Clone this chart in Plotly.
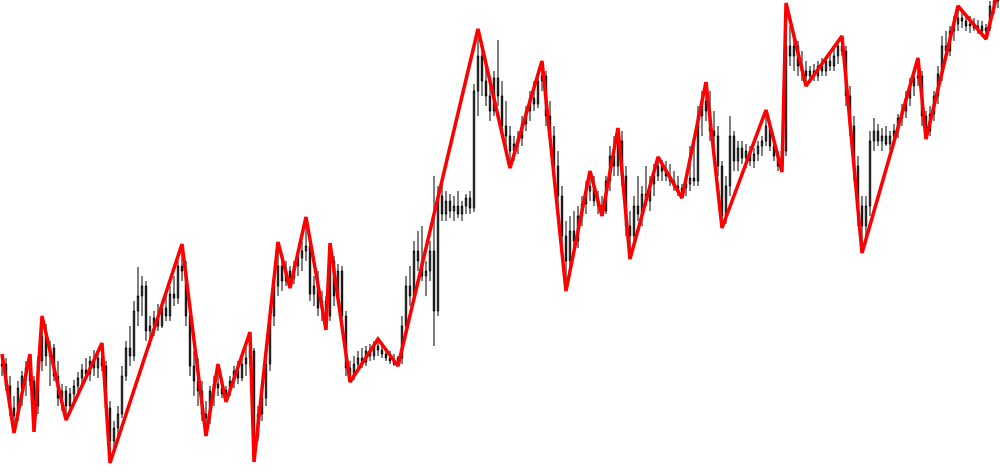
import plotly.graph_objects as go

# price values in chart units (0 = bottom of view, 476 = top)
opens = [
    110,112,90,68,60,88,100,108,95,70,
    115,140,120,128,100,78,85,70,82,90,
    98,106,102,115,108,118,110,68,35,48,
    62,100,128,120,165,180,190,145,150,158,
    150,168,160,182,178,210,205,160,110,95,
    85,62,58,85,92,88,82,86,95,105,
    98,112,118,125,40,62,78,112,160,190,
    210,195,205,198,210,218,225,230,182,190,
    168,175,160,215,180,205,160,108,100,112,
    118,114,125,120,130,126,122,118,115,112,
    118,150,190,180,225,215,200,205,225,165,
    280,262,275,265,270,262,270,278,268,385,
    420,395,380,365,398,380,350,340,325,332,
    338,352,365,378,372,395,400,360,340,310,
    280,240,215,245,235,260,272,285,290,275,
    270,265,295,320,310,335,300,250,240,270,
    262,282,275,292,300,310,305,300,295,290,
    285,288,292,298,295,360,375,365,345,340,
    310,260,290,340,315,328,318,325,315,322,
    330,335,350,330,320,310,325,430,420,430,
    410,405,400,405,400,410,405,415,410,420,
    430,425,380,350,310,270,250,270,335,345,
    335,340,332,340,345,358,365,378,390,398,
    400,360,345,362,380,402,430,425,445,452,
    458,455,450,452,448,450,445,448,470,475,
]
highs = [
    122,118,100,80,95,105,115,122,100,120,
    160,152,135,132,115,92,90,88,96,104,
    112,118,120,126,124,133,115,75,55,70,
    110,135,150,175,209,200,195,160,165,172,
    175,185,190,200,215,232,215,165,125,118,
    95,75,90,100,112,95,90,100,110,115,
    120,128,144,128,70,85,120,170,200,234,
    220,215,210,215,225,235,259,235,200,205,
    185,180,233,220,212,210,165,115,120,125,
    128,130,132,135,137,132,128,125,122,120,
    160,200,210,235,245,250,215,235,300,290,
    292,285,282,280,285,275,282,285,392,447,
    435,410,400,405,436,395,375,350,340,345,
    360,370,385,395,400,415,405,375,350,325,
    290,255,260,265,270,280,295,305,300,285,
    280,300,330,340,348,345,310,265,280,300,
    290,310,300,312,319,316,315,312,305,300,
    292,300,330,340,370,385,394,385,365,350,
    315,300,360,345,335,335,332,330,328,335,
    340,366,355,340,325,330,473,450,440,435,
    425,415,410,412,415,418,420,425,428,435,
    440,430,390,360,320,280,280,345,358,352,
    348,350,345,352,362,372,385,398,405,418,
    405,365,370,385,410,440,445,450,460,470,
    465,462,460,458,456,455,452,475,482,485,
]
lows = [
    100,85,60,43,55,70,80,90,44,62,
    105,110,90,95,70,65,56,62,75,80,
    88,96,95,100,98,105,60,13,28,40,
    58,95,110,115,150,160,135,130,140,145,
    148,155,155,170,172,195,150,100,80,70,
    55,40,52,70,80,78,74,80,88,92,
    95,100,110,14,35,55,70,105,150,180,
    185,190,188,192,200,205,215,175,170,160,
    155,146,155,170,175,150,100,94,96,105,
    108,110,115,116,120,118,115,112,110,110,
    112,145,170,175,205,195,180,195,130,160,
    255,255,258,255,258,255,262,262,264,360,
    380,370,355,360,370,345,325,308,315,322,
    330,345,355,365,368,385,350,330,300,270,
    230,185,205,225,228,250,262,275,270,262,
    260,262,285,300,300,290,240,217,235,255,
    250,270,265,280,295,295,295,290,285,280,
    278,280,285,290,290,340,355,335,330,300,
    248,252,280,305,305,312,308,310,308,315,
    320,330,325,315,305,304,320,410,405,400,
    395,390,393,395,395,400,400,405,405,412,
    420,370,340,295,250,223,240,260,325,330,
    325,330,326,332,338,350,358,370,380,390,
    350,337,340,355,372,395,420,420,435,445,
    448,445,443,445,442,440,437,445,462,468,
]
closes = [
    112,90,68,60,88,100,108,95,70,115,
    140,120,128,100,78,85,70,82,90,98,
    106,102,115,108,118,110,68,35,48,62,
    100,128,120,165,180,190,145,150,158,150,
    168,160,182,178,210,205,160,110,95,85,
    62,58,85,92,88,82,86,95,105,98,
    112,118,125,40,62,78,112,160,190,210,
    195,205,198,210,218,225,230,182,190,168,
    175,160,215,180,205,160,108,100,112,118,
    114,125,120,130,126,122,118,115,112,118,
    150,190,180,225,215,200,205,225,165,280,
    262,275,265,270,262,270,278,268,385,420,
    395,380,365,398,380,350,340,325,332,338,
    352,365,378,372,395,400,360,340,310,280,
    240,215,245,235,260,272,285,290,275,270,
    265,295,320,310,335,300,250,240,270,262,
    282,275,292,300,310,305,300,295,290,285,
    288,292,298,295,360,375,365,345,340,310,
    260,290,340,315,328,318,325,315,322,330,
    335,350,330,320,310,325,430,420,430,410,
    405,400,405,400,410,405,415,410,420,430,
    425,380,350,310,270,250,270,335,345,335,
    340,332,340,345,358,365,378,390,398,400,
    360,345,362,380,402,430,425,445,452,458,
    455,450,452,448,450,445,448,470,475,480,
]
bars = list(range(len(opens)))

# zigzag indicator turning points (bar index, price)
zz_bars = [0,3,7,8,10,16,25,27,45,51,54,56,62,63,69,72,76,81,82,87,
           94,99,119,127,135,141,147,150,154,157,164,170,176,180,191,195,196,201,210,215,
           229,231,239,246,249]
zz_vals = [122,43,122,44,160,56,133,13,232,40,112,74,144,14,234,188,259,146,233,94,
           137,110,447,308,415,185,305,260,348,217,319,278,394,248,366,304,473,390,440,223,
           418,337,470,437,485]

fig = go.Figure()
fig.add_trace(go.Candlestick(
    x=bars, open=opens, high=highs, low=lows, close=closes,
    increasing=dict(line=dict(color="#000000", width=1), fillcolor="#b0b0b0"),
    decreasing=dict(line=dict(color="#000000", width=1), fillcolor="#505050"),
    showlegend=False, hoverinfo="skip",
))
fig.add_trace(go.Scatter(
    x=zz_bars, y=zz_vals, mode="lines",
    line=dict(color="#ff0000", width=3.5),
    showlegend=False, hoverinfo="skip",
))
fig.update_layout(
    width=1000, height=476,
    margin=dict(l=0, r=0, t=0, b=0),
    paper_bgcolor="white", plot_bgcolor="white",
    boxgap=0.5,
    xaxis=dict(range=[-0.5, 249.5], visible=False, rangeslider=dict(visible=False)),
    yaxis=dict(range=[0, 476], visible=False),
)
fig.write_html("out.html", config={"displayModeBar": False},
               post_script="document.body.style.margin='0';")
